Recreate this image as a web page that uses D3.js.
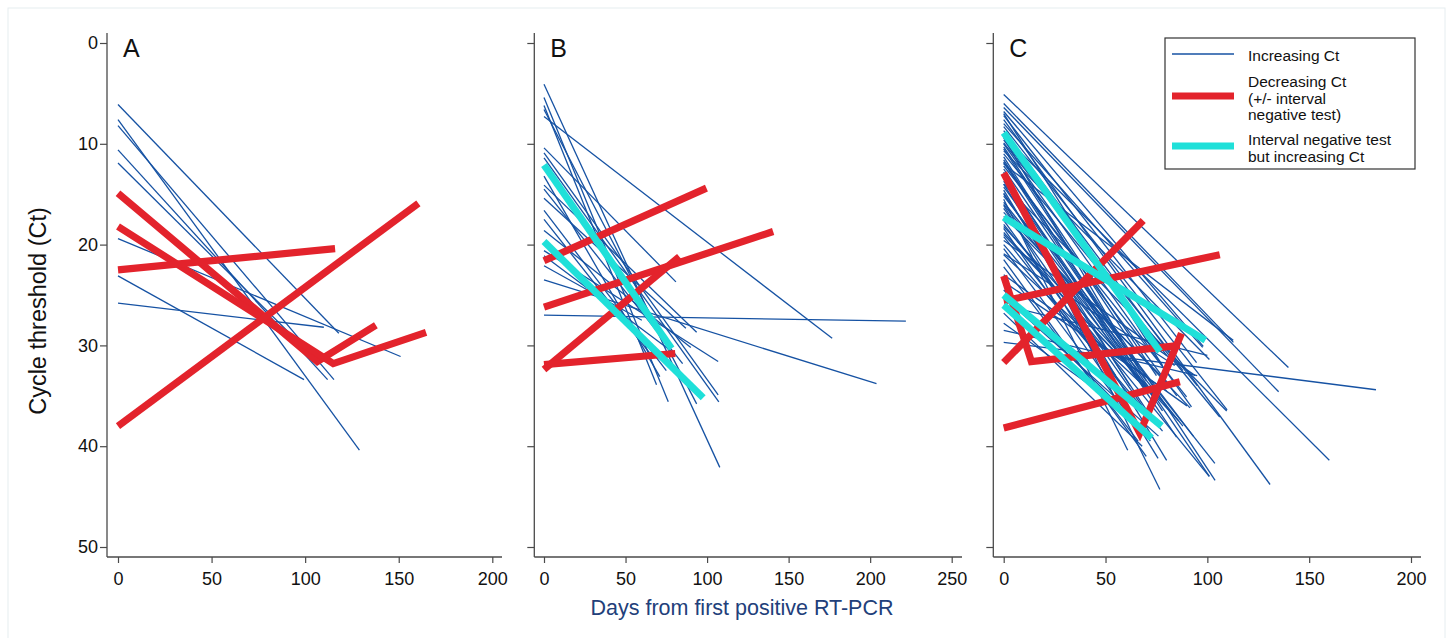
<!DOCTYPE html>
<html><head><meta charset="utf-8">
<script src="https://cdn.jsdelivr.net/npm/d3@7"></script>
<style>
body{margin:0;background:#fff}
svg{display:block}
text{font-family:"Liberation Sans", Arial, Helvetica, sans-serif}
</style>
</head><body>
<svg id="chart" width="1449" height="638"></svg>
<script>
// ---------- tick labels ----------
const yTicks = [0, 10, 20, 30, 40, 50];
const xTicksA = [0, 50, 100, 150, 200];
const xTicksB = [0, 50, 100, 150, 200, 250];
const xTicksC = [0, 50, 100, 150, 200];
const panelLabels = ["A", "B", "C"];
const legendLabels = [["Increasing Ct"], ["Decreasing Ct", "(+/- interval", "negative test)"], ["Interval negative test", "but increasing Ct"]];
const yTitle = "Cycle threshold (Ct)";
const xTitle = "Days from first positive RT-PCR";

// ---------- series: each line = list of [day, Ct] ----------
const A_increasing = [
  [[0,6.1],[118,28.8]], [[0,7.6],[129,40.4]], [[0,8.2],[115.4,33.4]], [[0,10.6],[112,33.4]],
  [[0,11.9],[108,31.8]], [[0,19.4],[151,31.1]], [[0,23.1],[99.4,33.4]], [[0,25.8],[110,28.2]]
];
const A_decreasing = [
  [[0,14.9],[106.5,31.6],[137.8,28.0]], [[0,18.2],[115,31.8],[164.6,28.7]],
  [[0,22.5],[116,20.4]], [[0,38.0],[160.5,15.9]]
];
const A_negative = [];

const B_increasing = [
  [[0,4.1],[107.8,42.1]], [[0,5.4],[76.2,35.6]], [[0,6.2],[69,33.9]], [[0,6.6],[93.6,35.8]],
  [[0,7.3],[176.7,29.3]], [[0,10.4],[80.9,23.7]], [[0,10.9],[106.8,34.9]], [[0,11.4],[107.2,35.6]],
  [[0,13.2],[71,33.1]], [[0,14.1],[93.6,28.7]], [[0,14.5],[85,31.8]], [[0,15.4],[87,28.3]],
  [[0,16.6],[75,32.5]], [[0,17.5],[66,31.0]], [[0,18.6],[90,30.2]], [[0,20.6],[106.8,31.6]],
  [[0,21.1],[80,30.8]], [[0,22.1],[60,27.5]], [[0,23.5],[203.9,33.8]], [[0,27.0],[221.9,27.6]]
];
const B_decreasing = [
  [[0,21.6],[99.6,14.4]], [[0,26.2],[140.5,18.7]], [[0,32.4],[83,21.2]], [[0,31.9],[80.5,30.8]]
];
const B_negative = [
  [[0,12.1],[78.2,30.3]], [[0,19.7],[97.6,35.2]]
];

const C_increasing = [
  [[0,5.1],[139.8,32.2]], [[0,6.0],[112.8,29.7]], [[0,6.4],[135,34.6]], [[0,6.8],[98,30.1]],
  [[0,7.2],[94.7,31.7]], [[0,7.6],[130.8,43.8]], [[0,8.0],[97.7,30.2]], [[0,8.3],[109.7,36.4]],
  [[0,8.7],[88,32.5]], [[0,9.2],[159.9,41.4]], [[0,9.6],[80,31.0]], [[0,10.0],[92.2,36.1]],
  [[0,10.3],[75,33.0]], [[0,10.7],[101,31.4]], [[0,11.0],[106.1,37.1]], [[0,11.3],[70,33.5]],
  [[0,11.6],[103.8,43.4]], [[0,11.9],[85,35.0]], [[0,12.2],[89.8,35.1]], [[0,12.5],[66,32.0]],
  [[0,12.8],[76.7,44.3]], [[0,13.1],[101,43.0]], [[0,13.4],[78,36.5]], [[0,13.7],[84.9,39.1]],
  [[0,14.0],[62,34.0]], [[0,14.3],[93.1,39.0]], [[0,14.6],[80,41.4]], [[0,14.9],[72,37.0]],
  [[0,15.2],[103.7,41.7]], [[0,15.5],[60.9,40.4]], [[0,15.8],[88,38.0]], [[0,16.1],[75.8,41.2]],
  [[0,16.4],[68,36.0]], [[0,16.8],[91.5,36.2]], [[0,17.2],[82,34.0]], [[0,17.6],[55,33.0]],
  [[0,18.0],[100.9,43.0]], [[0,18.4],[72,39.5]], [[0,18.8],[86,37.5]], [[0,19.2],[64,35.5]],
  [[0,19.6],[94,33.0]], [[0,20.0],[78,38.5]], [[0,20.4],[58,36.0]], [[0,20.9],[84,32.0]],
  [[0,21.5],[70,41.0]], [[0,22.2],[66,39.5]], [[0,23.0],[90,36.0]], [[0,23.7],[80,34.5]],
  [[0,24.5],[62,37.0]], [[0,25.2],[76,39.0]], [[0,26.0],[100,31.0]], [[0,26.8],[68,40.0]],
  [[0,27.8],[60,36.5]], [[0,28.5],[95,33.0]], [[0,29.7],[182.8,34.4]], [[0,14.0],[109.5,36.5]],
  [[0,12.0],[112.7,29.5]], [[0,9.9],[95,34.0]], [[0,7.0],[78,32.0]], [[0,10.5],[65,30.5]],
  [[0,9.4],[58,29.5]], [[0,11.8],[62,31.0]], [[0,13.0],[70,34.5]], [[0,15.0],[66,33.5]],
  [[0,16.0],[73,35.0]], [[0,18.2],[60,31.5]], [[0,19.0],[80,36.0]], [[0,21.0],[74,35.0]]
];
const C_decreasing = [
  [[0,12.9],[66.8,38.7],[87.3,28.8]], [[0,23.1],[13.6,31.6],[86.5,30.0]],
  [[0,31.7],[68.5,17.6]], [[0,25.6],[106.1,21.0]], [[0,38.2],[86.5,33.6]]
];
const C_negative = [
  [[0,8.9],[76.7,30.6]], [[0,17.3],[99,29.5]], [[0,25.0],[77.5,38.0]], [[0,26.0],[72.6,39.2]]
];

// ---------- drawing ----------
const COL = {inc: "#1652a3", dec: "#e3232c", neg: "#1fe0d9"};
const W = {inc: 1.3, dec: 7.2, neg: 7};
const svg = d3.select("#chart");

svg.append("rect").attr("x", 8).attr("y", 8).attr("width", 1437).attr("height", 640)
  .attr("fill", "none").attr("stroke", "#e6edf0").attr("stroke-width", 1);

const yTop = 33, yBot = 557;
const y = d3.scaleLinear().domain([0, 50]).range([43, 547]);

const panels = [
  {label: panelLabels[0], inc: A_increasing, dec: A_decreasing, neg: A_negative, ticks: xTicksA,
   x0: 118, x1: 492.3, axL: 107, axR: 502, showY: true},
  {label: panelLabels[1], inc: B_increasing, dec: B_decreasing, neg: B_negative, ticks: xTicksB,
   x0: 544, x1: 951.7, axL: 534.3, axR: 962, showY: false},
  {label: panelLabels[2], inc: C_increasing, dec: C_decreasing, neg: C_negative, ticks: xTicksC,
   x0: 1003.7, x1: 1411, axL: 993.3, axR: 1421, showY: false}
];

panels.forEach(p => {
  const tmax = p.ticks[p.ticks.length - 1];
  const x = d3.scaleLinear().domain([0, tmax]).range([p.x0, p.x1]);
  const g = svg.append("g");

  // y axis
  const ya = g.append("g").attr("transform", `translate(${p.axL},0)`)
    .call(d3.axisLeft(y).tickValues(yTicks).tickSize(7).tickPadding(2)
      .tickFormat(p.showY ? d3.format("d") : () => ""));
  ya.select(".domain").remove();
  ya.selectAll("line").attr("stroke", "#4a4a4a").attr("stroke-width", 1.2);
  ya.selectAll("text").attr("font-size", 18).attr("fill", "#111").attr("font-family", "Liberation Sans, Arial, sans-serif");
  g.append("line").attr("x1", p.axL).attr("x2", p.axL).attr("y1", yTop).attr("y2", yBot)
    .attr("stroke", "#4a4a4a").attr("stroke-width", 1.3);

  // x axis
  const xa = g.append("g").attr("transform", `translate(0,${yBot})`)
    .call(d3.axisBottom(x).tickValues(p.ticks).tickSize(6).tickPadding(9).tickFormat(d3.format("d")));
  xa.select(".domain").remove();
  xa.selectAll("line").attr("stroke", "#4a4a4a").attr("stroke-width", 1.2);
  xa.selectAll("text").attr("font-size", 18).attr("fill", "#111").attr("font-family", "Liberation Sans, Arial, sans-serif");
  g.append("line").attr("x1", p.axL).attr("x2", p.axR).attr("y1", yBot).attr("y2", yBot)
    .attr("stroke", "#4a4a4a").attr("stroke-width", 1.3);

  const line = d3.line().x(d => x(d[0])).y(d => y(d[1]));
  [["inc", p.inc], ["dec", p.dec], ["neg", p.neg]].forEach(([k, arr]) => {
    g.append("g").selectAll("path").data(arr).join("path")
      .attr("d", line).attr("fill", "none").attr("stroke", COL[k])
      .attr("stroke-width", W[k]).attr("stroke-linejoin", "miter").attr("stroke-linecap", "butt");
  });

  g.append("text").attr("x", p.axL + 16).attr("y", 57).attr("font-size", 25)
    .attr("fill", "#111").text(p.label);
});

// axis titles
svg.append("text").attr("transform", "translate(46,311) rotate(-90)")
  .attr("text-anchor", "middle").attr("font-size", 23.5).attr("fill", "#111").text(yTitle);
svg.append("text").attr("x", 742).attr("y", 615).attr("text-anchor", "middle")
  .attr("font-size", 21.5).attr("fill", "#22407a").text(xTitle);

// legend
const lg = svg.append("g");
lg.append("rect").attr("x", 1165).attr("y", 38).attr("width", 250).attr("height", 131)
  .attr("fill", "#fff").attr("stroke", "#333").attr("stroke-width", 1.2);
const legendItems = [
  {k: "inc", ly: 54, w: 1.5, texts: legendLabels[0], ty: 61},
  {k: "dec", ly: 96, w: 7, texts: legendLabels[1], ty: 87},
  {k: "neg", ly: 146, w: 7, texts: legendLabels[2], ty: 145}
];
legendItems.forEach(it => {
  lg.append("line").attr("x1", 1172).attr("x2", 1234).attr("y1", it.ly).attr("y2", it.ly)
    .attr("stroke", COL[it.k]).attr("stroke-width", it.w);
  it.texts.forEach((t, i) => {
    lg.append("text").attr("x", 1248).attr("y", it.ty + i * 16.5).attr("font-size", 15.5)
      .attr("fill", "#111").text(t);
  });
});
</script>
</body></html>
